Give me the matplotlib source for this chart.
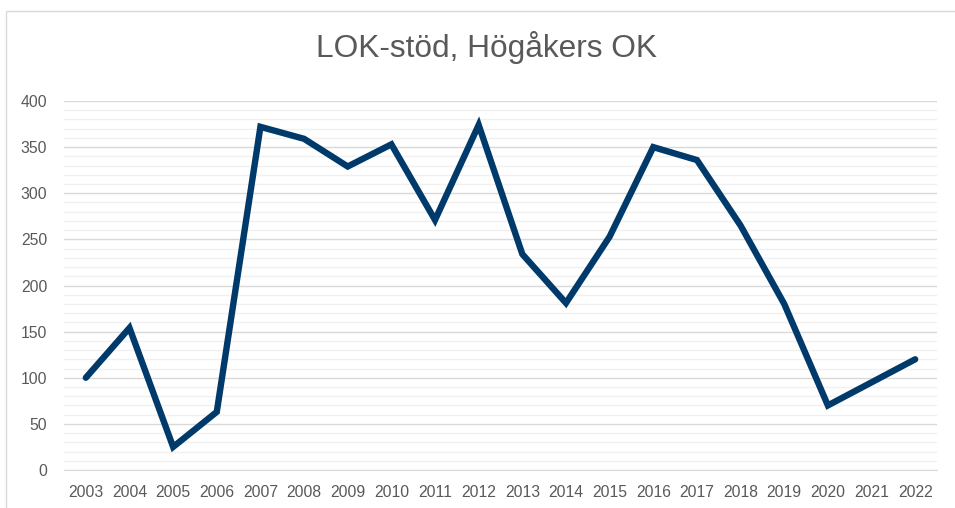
import matplotlib.pyplot as plt
from matplotlib.patches import Rectangle
from matplotlib.ticker import MultipleLocator

years = [2003, 2004, 2005, 2006, 2007, 2008, 2009, 2010, 2011, 2012,
         2013, 2014, 2015, 2016, 2017, 2018, 2019, 2020, 2021, 2022]
values = [100, 154, 25, 63, 372, 359, 329, 353, 271, 374,
          234, 181, 253, 350, 336, 265, 180, 70, 95, 120]

W, H = 955, 508
fig = plt.figure(figsize=(W / 100, H / 100), dpi=100)
plt.rcParams['font.family'] = ['Liberation Sans', 'DejaVu Sans']

# chart border (cropped on the right and bottom)
fig.patches.append(Rectangle((5.5 / W, -0.1), 1.1, 1 - 11 / H + 0.1,
                             transform=fig.transFigure, fill=False,
                             edgecolor='#d9d9d9', linewidth=1.0))

ax = fig.add_axes([64 / W, 1 - 470 / H, (937 - 64) / W, (470 - 101) / H])
x = list(range(len(years)))
ax.plot(x, values, color='#003a6b', linewidth=4.6, solid_joinstyle='miter',
        solid_capstyle='round', zorder=3)

ax.set_xlim(-0.5, len(years) - 0.5)
ax.set_ylim(0, 400)
ax.yaxis.set_major_locator(MultipleLocator(50))
ax.yaxis.set_minor_locator(MultipleLocator(10))
ax.grid(which='major', axis='y', color='#d9d9d9', linewidth=1.0)
ax.grid(which='minor', axis='y', color='#f0f0f0', linewidth=1.0)
ax.set_axisbelow(True)
ax.set_xticks(x)
ax.set_xticklabels([str(y) for y in years])
for s in ['top', 'right', 'left']:
    ax.spines[s].set_visible(False)
ax.spines['bottom'].set_color('#d9d9d9')
ax.tick_params(which='both', length=0, labelsize=11.3, colors='#595959')
ax.tick_params(axis='x', pad=11)
ax.tick_params(axis='y', pad=12)

fig.text(486 / W, 1 - 47 / H, 'LOK-stöd, Högåkers OK', ha='center', va='center',
         fontsize=22.8, color='#595959')

fig.savefig('out.png', dpi=100)
